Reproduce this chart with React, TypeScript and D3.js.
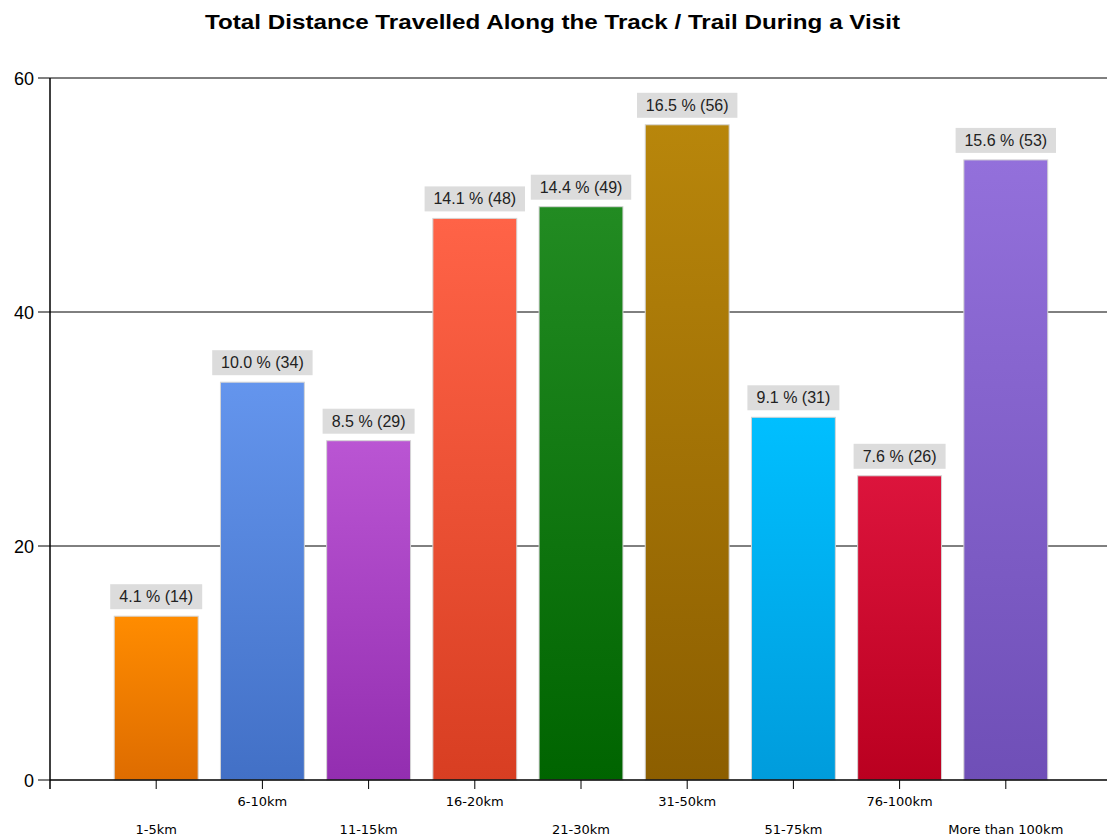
import React from 'react';
import * as d3 from 'd3';

const categories = ['1-5km', '6-10km', '11-15km', '16-20km', '21-30km', '31-50km', '51-75km', '76-100km', 'More than 100km'];
const counts = [14, 34, 29, 48, 49, 56, 31, 26, 53];
const yTicks = [0, 20, 40, 60];
const topColors = ['#ff8c00', '#6495ed', '#ba55d3', '#ff6347', '#228b22', '#b8860b', '#00bfff', '#dc143c', '#9370db'];
const bottomColors = ['#de6c00', '#4270c6', '#932eb0', '#d83e22', '#006400', '#8c5e00', '#009cdc', '#ba0020', '#6f4fb7'];

const W = 1107;
const H = 839;

export default function App() {
  const total = d3.sum(counts);
  const x = d3.scaleLinear().domain([0, categories.length + 1]).range([50, 1112]);
  const y = d3.scaleLinear().domain([0, 60]).range([780, 78]);
  const band = x(1) - x(0);
  const barW = band * 0.79;

  return (
    <svg width={W} height={H} style={{ position: 'absolute', left: 0, top: 0, background: '#fff' }}
      fontFamily="'Liberation Sans', Arial, sans-serif">
      <defs>
        {categories.map((c, i) => (
          <linearGradient key={c} id={`g${i}`} x1="0" y1="0" x2="0" y2="1">
            <stop offset="0" stopColor={topColors[i]} />
            <stop offset="1" stopColor={bottomColors[i]} />
          </linearGradient>
        ))}
      </defs>

      <text x={205} y={29} fontSize={21} fontWeight="bold" fill="#000"
        textLength={695} lengthAdjust="spacingAndGlyphs">
        Total Distance Travelled Along the Track / Trail During a Visit
      </text>

      {/* grid + y ticks */}
      {yTicks.map(t => (
        <g key={t}>
          {t > 0 && <line x1={38} x2={W} y1={y(t)} y2={y(t)} stroke="#000" strokeWidth={1} />}
          {t === 0 && <line x1={38} x2={50} y1={y(t)} y2={y(t)} stroke="#000" strokeWidth={1} />}
          <text x={34} y={y(t) + 6.5} textAnchor="end" fontSize={18} fill="#000">{t}</text>
        </g>
      ))}

      {/* bars */}
      {counts.map((v, i) => {
        const cx = x(i + 1);
        const label = `${((v / total) * 100).toFixed(1)} % (${v})`;
        const boxW = label.length * 8.4 + 8;
        return (
          <g key={categories[i]}>
            <rect x={cx - barW / 2} y={y(v)} width={barW} height={y(0) - y(v)}
              fill={`url(#g${i})`} stroke="#d4d4d4" strokeWidth={1} />
            <rect x={cx - boxW / 2} y={y(v) - 32} width={boxW} height={25} fill="#dcdcdc" />
            <text x={cx} y={y(v) - 14} textAnchor="middle" fontSize={16} fill="#222">{label}</text>
          </g>
        );
      })}

      {/* axes */}
      <line x1={50} x2={50} y1={78} y2={789} stroke="#000" strokeWidth={1.5} />
      <line x1={50} x2={W} y1={y(0)} y2={y(0)} stroke="#000" strokeWidth={1.5} />
      {categories.map((c, i) => (
        <g key={c}>
          <line x1={x(i + 1)} x2={x(i + 1)} y1={780} y2={789} stroke="#000" strokeWidth={1} />
          <text x={x(i + 1)} y={i % 2 === 0 ? 834 : 806} textAnchor="middle" fontSize={13}
            fontFamily="'DejaVu Sans', sans-serif" fill="#000">{c}</text>
        </g>
      ))}
    </svg>
  );
}
